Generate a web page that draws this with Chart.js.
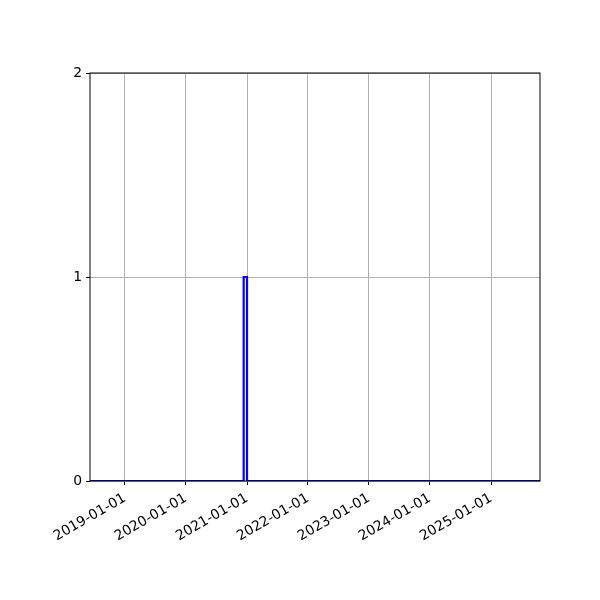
<!DOCTYPE html>
<html>
<head>
<meta charset="utf-8">
<script src="https://cdn.jsdelivr.net/npm/chart.js@4"></script>
<style>
  html, body { margin: 0; padding: 0; background: #fff; }
  #wrap { width: 600px; height: 600px; }
</style>
</head>
<body>
<div id="wrap"><canvas id="histChart"></canvas></div>
<script>
// histogram bin edges (dates) and counts, step drawn from the left edge of each bin
var binEdges = ['2018-06-06', '2020-12-12', '2021-01-01', '2025-10-21'];
var counts = [0, 1, 0, 0];
var xTickDates = ['2019-01-01', '2020-01-01', '2021-01-01', '2022-01-01',
                  '2023-01-01', '2024-01-01', '2025-01-01'];
var yTicks = [0, 1, 2];

function toMs(s) {
    var p = s.split('-');
    return Date.UTC(+p[0], +p[1] - 1, +p[2]);
}
function pad(n) { return (n < 10 ? '0' : '') + n; }
function fmtDate(ms) {
    var d = new Date(ms);
    return d.getUTCFullYear() + '-' + pad(d.getUTCMonth() + 1) + '-' + pad(d.getUTCDate());
}

var points = binEdges.map(function (e, i) { return { x: toMs(e), y: counts[i] }; });

// matplotlib-style box around the plot area
var spines = {
    id: 'spines',
    afterDatasetsDraw: function (chart) {
        var a = chart.chartArea, c = chart.ctx;
        c.save();
        c.strokeStyle = '#000';
        c.lineWidth = 1;
        c.strokeRect(a.left, a.top, a.right - a.left, a.bottom - a.top);
        c.restore();
    }
};

document.addEventListener("DOMContentLoaded", function () {
    var ctx = document.getElementById('histChart').getContext('2d');
    new Chart(ctx, {
        type: 'line',
        data: {
            datasets: [{
                data: points,
                stepped: 'before',
                borderColor: '#0000ff',
                borderWidth: 2.2,
                pointRadius: 0,
                fill: false
            }]
        },
        options: {
            responsive: true,
            maintainAspectRatio: false,
            animation: false,
            layout: { padding: { top: 73, right: 60, left: 0, bottom: 0 } },
            plugins: { legend: { display: false }, tooltip: { enabled: false } },
            scales: {
                x: {
                    type: 'linear',
                    min: toMs(binEdges[0]),
                    max: toMs(binEdges[binEdges.length - 1]),
                    afterBuildTicks: function (scale) {
                        scale.ticks = xTickDates.map(function (d) { return { value: toMs(d) }; });
                    },
                    afterFit: function (scale) { scale.height = 119; },
                    grid: { color: '#b0b0b0', lineWidth: 1, tickColor: '#000', tickLength: 4, drawOnChartArea: true },
                    border: { display: false },
                    ticks: {
                        autoSkip: false,
                        minRotation: 30,
                        maxRotation: 30,
                        padding: 5,
                        color: '#000',
                        font: { family: 'DejaVu Sans', size: 13.9 },
                        callback: function (v) { return fmtDate(v); }
                    }
                },
                y: {
                    min: 0,
                    max: 2,
                    afterBuildTicks: function (scale) {
                        scale.ticks = yTicks.map(function (v) { return { value: v }; });
                    },
                    afterFit: function (scale) { scale.width = 90; },
                    grid: { color: '#b0b0b0', lineWidth: 1, tickColor: '#000', tickLength: 4 },
                    border: { display: false },
                    ticks: {
                        padding: 4,
                        color: '#000',
                        font: { family: 'DejaVu Sans', size: 13.9 }
                    }
                }
            }
        },
        plugins: [spines]
    });
});
</script>
</body>
</html>
